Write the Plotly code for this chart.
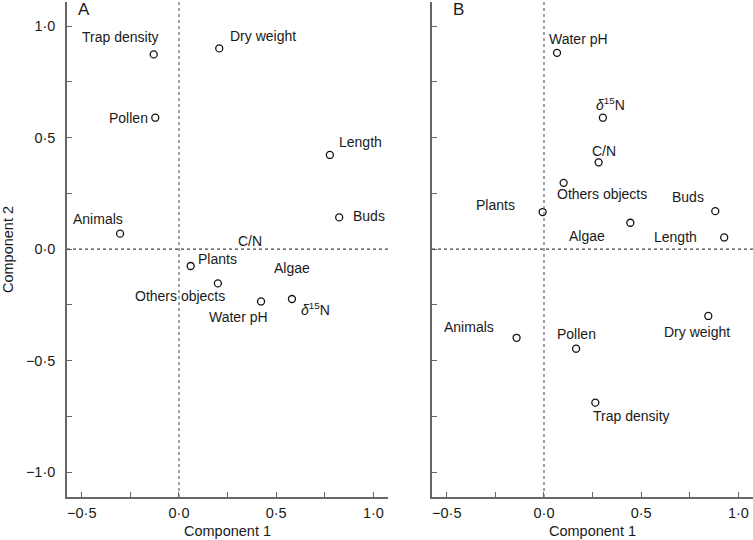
import plotly.graph_objects as go

# ---------------- data ----------------
labels_a = ["Trap density", "Dry weight", "Pollen", "Length", "Buds", "Animals",
            "C/N", "Plants", "Algae", "Others objects", "Water pH", "<i>δ</i><sup>15</sup>N"]
x_a = [-0.130, 0.207, -0.122, 0.776, 0.824, -0.303, 0.365, 0.060, 0.581, 0.200, 0.422, 0.581]
y_a = [0.873, 0.900, 0.589, 0.422, 0.142, 0.069, 0.036, -0.076, -0.085, -0.154, -0.235, -0.224]

labels_b = ["Water pH", "<i>δ</i><sup>15</sup>N", "C/N", "Others objects", "Plants", "Algae",
            "Buds", "Length", "Animals", "Pollen", "Dry weight", "Trap density"]
x_b = [0.067, 0.303, 0.281, 0.101, -0.007, 0.444, 0.881, 0.927, -0.141, 0.165, 0.845, 0.264]
y_b = [0.880, 0.589, 0.389, 0.297, 0.166, 0.118, 0.170, 0.052, -0.398, -0.447, -0.300, -0.689]

tick_vals = [-1.0, -0.75, -0.5, -0.25, 0.0, 0.25, 0.5, 0.75, 1.0]
tick_text = ["\u22121·0", "", "\u22120·5", "", "0·0", "", "0·5", "", "1·0"]
xtick_vals = [-0.5, -0.25, 0.0, 0.25, 0.5, 0.75, 1.0]
xtick_text = ["\u22120·5", "", "0·0", "", "0·5", "", "1·0"]

# ---------------- styles ----------------
# marker visibility (points under C/N and Algae in panel A are not drawn)
opac_a = [1, 1, 1, 1, 1, 1, 0, 1, 0, 1, 1, 1]
opac_b = [1] * 12
# label pixel offsets (dx, dy) from each point
off_a = [(-33, -17), (44, -12), (-27, 0), (31, -12.5), (30, -1), (-22.5, -15),
         (0, 0), (27, -7), (0, 0), (-38, 12.5), (-23, 16), (24, 9.5)]
off_b = [(21, -14), (8, -13.5), (5, -11), (38, 11), (-47, -7.5), (-43, 13),
         (-27, -14), (-49, 0), (-48, -11), (0.5, -14.5), (-11, 16.5), (36, 13)]

FONT = "Liberation Sans, Arial, Helvetica, sans-serif"
AX_COL = "#666666"
W, H = 753, 540
ML, MR, MT, MB = 67, 0, 2, 43
XR = [-0.576, 1.075]
YR = [-1.112, 1.108]

fig = go.Figure()

def add_panel(xs, ys, op, xa, ya):
    fig.add_trace(go.Scatter(
        x=xs, y=ys, mode="markers", xaxis=xa, yaxis=ya,
        marker=dict(symbol="circle-open", size=7, color="#111111",
                    line=dict(width=1.3, color="#111111"), opacity=op),
        showlegend=False, hoverinfo="skip"))

add_panel(x_a, y_a, opac_a, "x", "y")
add_panel(x_b, y_b, opac_b, "x2", "y2")

annotations = []
for labs, xs, ys, offs, xr, yr in [(labels_a, x_a, y_a, off_a, "x", "y"),
                                   (labels_b, x_b, y_b, off_b, "x2", "y2")]:
    for t, xv, yv, (dx, dy) in zip(labs, xs, ys, offs):
        annotations.append(dict(x=xv, y=yv, xref=xr, yref=yr, text=t, showarrow=False,
                                xanchor="center", yanchor="middle", xshift=dx, yshift=-dy,
                                font=dict(family=FONT, size=14, color="#1a1a1a")))

# panel letters
annotations.append(dict(x=0, y=1, xref="x domain", yref="paper", text="A", showarrow=False,
                        xanchor="left", yanchor="top", xshift=9, yshift=4,
                        font=dict(family=FONT, size=17, color="#1a1a1a")))
annotations.append(dict(x=0, y=1, xref="x2 domain", yref="paper", text="B", showarrow=False,
                        xanchor="left", yanchor="top", xshift=19, yshift=4,
                        font=dict(family=FONT, size=17, color="#1a1a1a")))

shapes = []
for xr, yr in [("x", "y"), ("x2", "y2")]:
    shapes.append(dict(type="line", xref=xr, yref=yr + " domain", x0=0, x1=0, y0=0, y1=1,
                       line=dict(color=AX_COL, width=1.2, dash="3px,3px")))
    shapes.append(dict(type="line", xref=xr + " domain", yref=yr, x0=0, x1=1, y0=0, y1=0,
                       line=dict(color="#444444", width=1.2, dash="3px,3px")))

pw = W - ML - MR
dom_a = [0, (388 - ML) / pw]
dom_b = [(432 - ML) / pw, 1]

common_x = dict(range=XR, tickmode="array", tickvals=xtick_vals, ticktext=xtick_text,
                ticks="inside", ticklen=5, tickwidth=1.2, tickcolor=AX_COL,
                showline=True, linecolor=AX_COL, linewidth=1.5, showgrid=False,
                zeroline=False, automargin=False, ticklabelstandoff=2,
                tickfont=dict(family=FONT, size=14.5, color="#1a1a1a"),
                title=dict(text="Component 1", font=dict(family=FONT, size=14.5, color="#1a1a1a"),
                           standoff=6))
common_y = dict(range=YR, tickmode="array", tickvals=tick_vals,
                ticks="inside", ticklen=5, tickwidth=1.2, tickcolor=AX_COL,
                showline=True, linecolor=AX_COL, linewidth=1.5, showgrid=False,
                zeroline=False, automargin=False, ticklabelstandoff=7,
                tickfont=dict(family=FONT, size=14.5, color="#1a1a1a"))

fig.update_layout(
    width=W, height=H,
    margin=dict(l=ML, r=MR, t=MT, b=MB),
    plot_bgcolor="white", paper_bgcolor="white",
    xaxis=dict(domain=dom_a, anchor="y", **common_x),
    xaxis2=dict(domain=dom_b, anchor="y2", **common_x),
    yaxis=dict(domain=[0, 1], anchor="x", ticktext=tick_text,
               title=dict(text="Component 2", font=dict(family=FONT, size=14.5, color="#1a1a1a"),
                          standoff=11), **common_y),
    yaxis2=dict(domain=[0, 1], anchor="x2", showticklabels=False, **common_y),
    annotations=annotations,
    shapes=shapes,
)

fig.write_html("out.html", config={"displayModeBar": False},
               post_script="document.body.style.margin='0';document.body.style.overflow='hidden';")
